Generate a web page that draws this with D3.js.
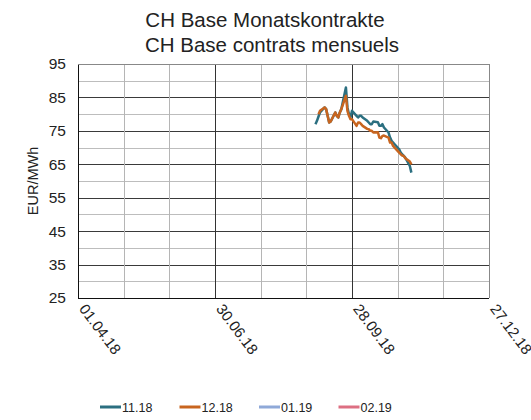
<!DOCTYPE html>
<html lang="de">
<head>
    <meta charset="utf-8">
    <script src="https://d3js.org/d3.v7.min.js"></script>
    <style type="text/css">
        body {
            margin: 0;
            background: #fff;
            overflow: hidden;
            font-family: "Liberation Sans", Arial, sans-serif;
        }
    </style>
</head>
<body>
<svg id="chart"></svg>
<script type="text/javascript">
    var width = 531;
    var height = 420;

    // Handelstage (gemeinsam fuer alle Kontrakte)
    var dates = [
        "04.09.18", "05.09.18", "06.09.18", "07.09.18", "10.09.18", "11.09.18", "12.09.18",
        "13.09.18", "14.09.18", "17.09.18", "18.09.18", "19.09.18", "20.09.18", "21.09.18",
        "24.09.18", "25.09.18", "26.09.18", "27.09.18", "28.09.18", "01.10.18", "02.10.18",
        "03.10.18", "04.10.18", "05.10.18", "08.10.18", "09.10.18", "10.10.18", "11.10.18",
        "12.10.18", "15.10.18", "16.10.18", "17.10.18", "18.10.18", "19.10.18", "22.10.18",
        "23.10.18", "24.10.18", "25.10.18", "26.10.18", "29.10.18", "30.10.18", "31.10.18",
        "01.11.18", "02.11.18", "05.11.18", "06.11.18"
    ];

    var nov18 = [
        77.0, 78.0, 79.3, 80.5, 82.0, 81.5, 79.5,
        77.5, 77.8, 80.5, 79.5, 79.0, 80.5, 81.5,
        88.0, 82.0, 80.0, 79.0, 81.0, 79.5, 79.0,
        79.5, 79.5, 79.0, 78.0, 77.5, 77.0, 77.0,
        77.8, 77.6, 76.5, 76.5, 77.0, 76.0, 74.5,
        73.0, 72.0, 71.5, 71.0, 69.5, 68.5, 68.0,
        67.5, 67.0, 64.5, 62.5
    ];

    var dec18 = [
        null, null, 80.0, 81.0, 82.0, 81.5, 79.5,
        77.5, 77.8, 80.5, 79.5, 79.0, 80.5, 81.5,
        85.5, 81.0, 79.5, 78.5, 78.5, 76.5, 77.5,
        77.5, 77.0, 76.5, 75.6, 75.5, 75.0, 75.0,
        74.5, 74.6, 73.0, 72.8, 73.5, 73.6, 73.0,
        71.5, 71.5, 70.5, 70.0, 68.5, 68.0, 67.6,
        67.5, 66.8, 65.8, 65.0
    ];

    var seriesNames = ["11.18", "12.18", "01.19", "02.19"];
    var seriesColors = ["#2b6f80", "#c8651f", "#8fa9d8", "#dd6f82"];
    var seriesValues = [nov18, dec18, [], []];

    var xTickLabels = ["01.04.18", "30.06.18", "28.09.18", "27.12.18"];
    var yTicks = [25, 35, 45, 55, 65, 75, 85, 95];

    var parseDate = d3.timeParse("%d.%m.%y");
    var margin = {left: 78, right: 42, top: 64, bottom: 122};
    var plotW = width - margin.left - margin.right;
    var plotH = height - margin.top - margin.bottom;

    var xStart = parseDate(xTickLabels[0]);
    var xEnd = parseDate(xTickLabels[xTickLabels.length - 1]);

    var x = d3.scaleTime().domain([xStart, xEnd]).range([0, plotW]);
    var y = d3.scaleLinear().domain([25, 95]).range([plotH, 0]);

    var svg = d3.select("#chart")
        .attr("width", width)
        .attr("height", height);

    // Titel
    svg.append("text")
        .attr("x", 265).attr("y", 27)
        .attr("text-anchor", "middle")
        .style("font-size", "20.5px")
        .style("fill", "#222")
        .text("CH Base Monatskontrakte");
    svg.append("text")
        .attr("x", 272).attr("y", 52)
        .attr("text-anchor", "middle")
        .style("font-size", "20.5px")
        .style("fill", "#222")
        .text("CH Base contrats mensuels");

    var g = svg.append("g")
        .attr("transform", "translate(" + margin.left + "," + margin.top + ")");

    // horizontale Gitterlinien (alle 5)
    var yGrid = d3.range(25, 96, 5);
    g.selectAll(".hgrid")
        .data(yGrid)
        .join("line")
        .attr("class", "hgrid")
        .attr("x1", 0).attr("x2", plotW)
        .attr("y1", function(d) { return Math.round(y(d)) + 0.5; })
        .attr("y2", function(d) { return Math.round(y(d)) + 0.5; })
        .style("stroke", function(d) { return (d - 25) % 10 === 0 ? "#3a3a3a" : "#bdbdbd"; })
        .style("stroke-width", 1);

    // vertikale Gitterlinien (alle 30 Tage)
    var xGrid = d3.range(0, 271, 30).map(function(d) { return d3.timeDay.offset(xStart, d); });
    g.selectAll(".vgrid")
        .data(xGrid)
        .join("line")
        .attr("class", "vgrid")
        .attr("y1", 0).attr("y2", plotH)
        .attr("x1", function(d) { return Math.round(x(d)) + 0.5; })
        .attr("x2", function(d) { return Math.round(x(d)) + 0.5; })
        .style("stroke", function(d, i) { return i % 3 === 0 ? "#333" : "#b5b5b5"; })
        .style("stroke-width", 1);

    // Achsenlinien
    g.append("line")
        .attr("x1", 0.5).attr("x2", 0.5).attr("y1", 0).attr("y2", plotH)
        .style("stroke", "#111");
    g.append("line")
        .attr("x1", 0).attr("x2", plotW).attr("y1", plotH + 0.5).attr("y2", plotH + 0.5)
        .style("stroke", "#111");
    g.append("line")
        .attr("x1", 0).attr("x2", plotW).attr("y1", 0.5).attr("y2", 0.5)
        .style("stroke", "#888");
    g.append("line")
        .attr("x1", plotW + 0.5).attr("x2", plotW + 0.5).attr("y1", 0).attr("y2", plotH)
        .style("stroke", "#888");

    // Y-Achse
    var yAxis = d3.axisLeft(y).tickValues(yTicks).tickSize(0).tickPadding(12);
    g.append("g")
        .call(yAxis)
        .call(function(s) { s.select(".domain").remove(); })
        .selectAll("text")
        .style("font-family", "'Liberation Sans', Arial, sans-serif")
        .style("font-size", "15.5px")
        .style("fill", "#222");

    svg.append("text")
        .attr("transform", "translate(38," + (margin.top + plotH / 2) + ") rotate(-90)")
        .attr("text-anchor", "middle")
        .style("font-size", "14.5px")
        .style("fill", "#222")
        .text("EUR/MWh");

    // X-Achse
    var xAxis = d3.axisBottom(x)
        .tickValues(xTickLabels.map(parseDate))
        .tickSize(0)
        .tickFormat(d3.timeFormat("%d.%m.%y"));
    g.append("g")
        .attr("transform", "translate(0," + plotH + ")")
        .call(xAxis)
        .call(function(s) { s.select(".domain").remove(); })
        .selectAll("text")
        .attr("text-anchor", "start")
        .attr("dy", 0)
        .attr("y", 0)
        .attr("transform", "translate(0,11) rotate(53)")
        .style("font-family", "'Liberation Sans', Arial, sans-serif")
        .style("font-size", "15px")
        .style("fill", "#222");

    // Linien
    var line = d3.line()
        .defined(function(d) { return d.v !== null; })
        .x(function(d) { return x(d.t); })
        .y(function(d) { return y(d.v); });

    seriesValues.forEach(function(vals, i) {
        var pts = vals.map(function(v, j) { return {t: parseDate(dates[j]), v: v}; });
        g.append("path")
            .datum(pts)
            .attr("d", line)
            .style("fill", "none")
            .style("stroke", seriesColors[i])
            .style("stroke-width", 2.5)
            .style("stroke-linejoin", "round");
    });

    // Legende
    var legend = svg.append("g")
        .attr("transform", "translate(100,407)");
    var items = legend.selectAll("g")
        .data(seriesNames)
        .join("g")
        .attr("transform", function(d, i) { return "translate(" + (i * 79.5) + ",0)"; });
    items.append("line")
        .attr("x1", 0).attr("x2", 21)
        .attr("y1", 0).attr("y2", 0)
        .style("stroke", function(d, i) { return seriesColors[i]; })
        .style("stroke-width", 3);
    items.append("text")
        .attr("x", 22).attr("y", 4.5)
        .style("font-size", "12.5px")
        .style("fill", "#222")
        .text(function(d) { return d; });
</script>
</body>
</html>
